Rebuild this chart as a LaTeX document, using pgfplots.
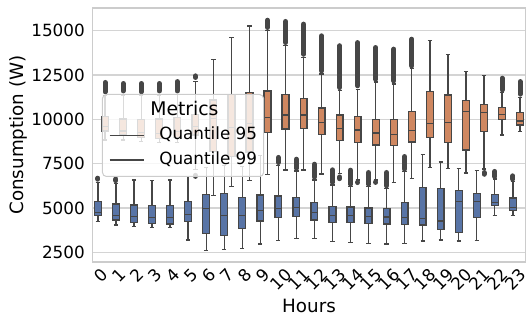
\documentclass[border=0pt]{standalone}
\usepackage{fontspec}
\setmainfont{DejaVu Sans}
\usepackage{pgfplots}
\usepackage{pgfplotstable}
\pgfplotsset{compat=1.18}
\definecolor{cblue}{HTML}{5874A6}
\definecolor{corange}{HTML}{CF8760}
\definecolor{lgray}{HTML}{464646}
\definecolor{gridc}{HTML}{D4D4D4}
\definecolor{spine}{HTML}{CCCCCC}
\pgfplotsset{
  wh/.style={forget plot, draw=lgray, line width=1.3pt, mark=none},
  fl/.style={forget plot, draw=lgray, line width=5pt, line cap=round, mark=none},
}
% Quantile 95 (blue): position, lower whisker, Q1, median, Q3, upper whisker
\pgfplotstableread{
pos lw lq med uq uw
-0.2 4228 4566 4754 5356 6450
0.8 4040 4322 4566 5224 6380
1.8 3946 4190 4528 5168 6578
2.8 3889 4115 4472 5149 6540
3.8 3889 4096 4472 5149 6578
4.8 3194 4228 4641 5374 6784
5.8 2592 3570 4980 5770 7290
6.8 2667 3438 4566 5807 7400
7.8 2724 3852 4566 5600 7350
8.8 2968 4265 4867 5732 7950
9.8 3175 4454 4980 5676 7400
10.8 3288 4510 5036 5581 7080
11.8 3288 4322 4735 5318 6580
12.8 3119 4190 4585 5093 6290
13.8 3043 4172 4585 5055 6200
14.8 2987 4115 4528 4999 6190
15.8 2968 4096 4491 4961 6100
16.8 3006 4078 4472 5299 7040
17.8 3137 4040 4397 6146 8026
18.8 3194 3796 4265 6089 7593
19.8 3137 3607 5356 5976 7236
20.8 3156 4472 5356 5807 7123
21.8 4566 5130 5299 5770 6630
22.8 4566 4867 5036 5562 6480
}\bluetab
% Quantile 99 (orange)
\pgfplotstableread{
pos lw lq med uq uw
0.2 8834 9342 9586 10150 11350
1.2 8834 9116 9342 10018 11350
2.2 8740 8984 9266 10000 11350
3.2 8703 8928 9210 10018 11350
4.2 8703 8984 9304 10094 11400
5.2 7150 9116 9586 10282 12150
6.2 5694 8176 10056 11090 13383
7.2 6202 7894 9548 11409 14624
8.2 6540 8150 9774 11522 15263
9.2 6897 9267 10094 11597 15000
10.2 7142 9454 10244 11409 14150
11.2 7142 9492 10244 11184 13500
12.2 6916 9154 9830 10639 12550
13.2 6950 8815 9492 10244 11620
14.2 6580 8703 9398 10150 11700
15.2 6580 8552 9228 9980 12100
16.2 6446 8514 9154 9980 12000
17.2 6672 8721 9380 10432 12850
18.2 7292 8966 9756 11560 14455
19.2 7236 8684 9812 11372 13665
20.2 6972 8270 10432 11052 12688
21.2 7200 9322 10394 10845 12462
22.2 9116 10000 10282 10658 11500
23.2 9304 9680 9906 10375 11250
}\orangetab
% outlier runs: position, lowest, highest
\pgfplotstableread{
pos lo hi
-0.2 6620 6680
0.8 6540 6630
9.8 7560 7850
10.8 7240 7750
11.8 6740 7470
12.8 6440 7150
13.8 6340 7130
14.8 6340 7000
15.8 6250 7000
16.8 7190 7900
21.8 6770 7060
22.8 6620 6810
}\blueout
\pgfplotstableread{
pos lo hi
0.2 11550 12080
1.2 11600 12020
2.2 11550 12020
3.2 11600 12020
4.2 11600 12130
5.2 12360 12450
5.2 6780 6840
9.2 15180 15590
10.2 14330 15520
11.2 13670 15370
12.2 12730 14710
13.2 11790 14150
13.2 6650 6750
14.2 11890 14330
14.2 6430 6450
15.2 12260 14050
15.2 6440 6460
16.2 12170 13960
17.2 13010 14520
21.2 6900 7000
22.2 11660 12320
23.2 11420 12130
}\orangeout
\newcommand{\drawbox}[3]{%
  \pgfplotstablegetelem{#2}{pos}\of#1\pgfmathsetmacro\bxc{\pgfplotsretval}%
  \pgfmathsetmacro\bxa{\bxc-0.19}\pgfmathsetmacro\bxb{\bxc+0.19}%
  \pgfmathsetmacro\bca{\bxc-0.12}\pgfmathsetmacro\bcb{\bxc+0.12}%
  \pgfplotstablegetelem{#2}{lw}\of#1\edef\blw{\pgfplotsretval}%
  \pgfplotstablegetelem{#2}{lq}\of#1\edef\blq{\pgfplotsretval}%
  \pgfplotstablegetelem{#2}{med}\of#1\edef\bmd{\pgfplotsretval}%
  \pgfplotstablegetelem{#2}{uq}\of#1\edef\buq{\pgfplotsretval}%
  \pgfplotstablegetelem{#2}{uw}\of#1\edef\buw{\pgfplotsretval}%
  \addplot[wh] coordinates {(\bxc,\blw) (\bxc,\blq)};
  \addplot[wh] coordinates {(\bxc,\buq) (\bxc,\buw)};
  \addplot[wh] coordinates {(\bca,\blw) (\bcb,\blw)};
  \addplot[wh] coordinates {(\bca,\buw) (\bcb,\buw)};
  \addplot[wh, fill=#3, line cap=rect] coordinates {(\bxa,\blq) (\bxb,\blq) (\bxb,\buq) (\bxa,\buq) (\bxa,\blq)};
  \addplot[wh] coordinates {(\bxa,\bmd) (\bxb,\bmd)};
}
\newcommand{\drawfl}[2]{%
  \pgfplotstablegetelem{#2}{pos}\of#1\edef\fxc{\pgfplotsretval}%
  \pgfplotstablegetelem{#2}{lo}\of#1\edef\flo{\pgfplotsretval}%
  \pgfplotstablegetelem{#2}{hi}\of#1\edef\fhi{\pgfplotsretval}%
  \addplot[fl] coordinates {(\fxc,\flo) (\fxc,\fhi)};
}
\begin{document}
\begin{tikzpicture}
\begin{axis}[
  width=433pt, height=254pt, scale only axis,
  xmin=-0.5, xmax=23.5, ymin=1950, ymax=16280,
  xtick={0,...,23}, ytick={2500,5000,7500,10000,12500,15000},
  scaled y ticks=false,
  /pgf/number format/1000 sep={},
  /pgf/number format/assume math mode=true,
  xticklabel={\rotatebox{45}{\vphantom{lp}\pgfmathprintnumber{\tick}}},
  tick label style={font=\fontsize{16.8}{20}\selectfont},
  xticklabel style={anchor=north, inner sep=0pt, yshift=-5pt},
  yticklabel style={anchor=east, inner sep=0pt, xshift=-7.5pt},
  major tick length=0pt,
  axis line style={draw=spine, line width=1.6pt},
  ymajorgrids, grid style={draw=gridc, line width=1.4pt},
  xlabel={Hours}, ylabel={Consumption (W)},
  label style={font=\fontsize{18.3}{22}\selectfont, inner sep=0pt},
  xlabel style={at={(axis description cs:0.5,-0.1744)}, anchor=center},
  ylabel style={at={(axis description cs:-0.1701,0.5)}, anchor=center},
  legend cell align=left,
  legend style={at={(rel axis cs:0.0219,0.6614)}, anchor=north west,
    fill=white, fill opacity=0.8, text opacity=1, draw=spine, line width=1pt,
    rounded corners=4pt, inner xsep=6.5pt, inner ysep=8.5pt,
    font=\fontsize{16.8}{20}\selectfont,
    nodes={inner sep=0pt, text height=12.5pt, text depth=3.5pt},
    column sep=15pt, row sep=8.5pt},
]
\pgfplotsinvokeforeach{0,...,23}{\drawbox{\bluetab}{#1}{cblue}}
\pgfplotsinvokeforeach{0,...,11}{\drawfl{\blueout}{#1}}
\pgfplotsinvokeforeach{0,...,23}{\drawbox{\orangetab}{#1}{corange}}
\pgfplotsinvokeforeach{0,...,21}{\drawfl{\orangeout}{#1}}
% ---- legend ----
\addlegendimage{empty legend}
\addlegendentry{\hspace*{-9pt}\fontsize{18.8}{22}\selectfont Metrics}
\addlegendimage{legend image code/.code={\draw[line width=1.3pt, draw=lgray] (0pt,0pt) -- (34pt,0pt);}}
\addlegendentry{Quantile 95}
\addlegendimage{legend image code/.code={\draw[line width=1.3pt, draw=lgray] (0pt,0pt) -- (34pt,0pt);}}
\addlegendentry{Quantile 99}
\end{axis}
\pgfresetboundingbox
\path[use as bounding box] ([xshift=-92.5pt,yshift=-58pt]current axis.south west) rectangle ([xshift=0.5pt,yshift=8pt]current axis.north east);
\end{tikzpicture}
\end{document}
